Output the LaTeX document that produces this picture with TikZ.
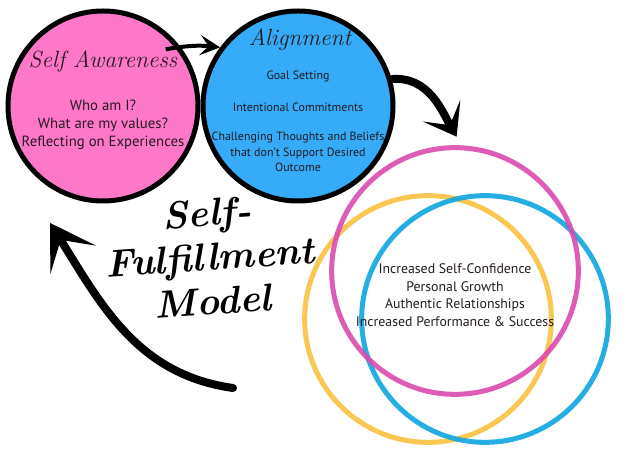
\documentclass[tikz,border=0pt]{standalone}
\usepackage{fontspec}
\setsansfont{PT Sans}
\usepackage{tikz}
\usetikzlibrary{arrows.meta,positioning}
\usepackage{xcolor}

\definecolor{bubblepink}{HTML}{FF77C8}
\definecolor{bubbleblue}{HTML}{36ABF7}
\definecolor{ringmagenta}{HTML}{D94AAE}
\definecolor{ringyellow}{HTML}{FBC140}
\definecolor{ringcyan}{HTML}{0EA5E0}
\definecolor{inkdark}{HTML}{231A22}

\begin{document}
\begin{tikzpicture}[
    x=0.3mm,y=0.3mm,
    bubble/.style={circle,draw=black,line width=1.5mm,minimum size=57mm,inner sep=0pt},
    ring/.style={circle,line width=1.5mm,minimum size=74mm,inner sep=0pt,draw opacity=0.9},
    body/.style={font=\sffamily\fontsize{11.8}{15}\selectfont,align=center,text=inkdark},
    heading/.style={font=\rmfamily\itshape\fontsize{20}{22}\selectfont,text=inkdark},
    title/.style={font=\rmfamily\bfseries\itshape\fontsize{33}{38}\selectfont,align=center},
    smallarrow/.style={line width=1.2mm,-{Stealth[length=6mm,width=6mm,inset=2.5mm]}},
    bigarrow/.style={line width=2.4mm,line cap=round}
  ]
    \useasboundingbox (0,0) rectangle (628,471);

    % the two circles on top
    \node[bubble,fill=bubblepink] (aware) at (103,365) {};
    \node[heading] (awaretitle) at (103,409) {Self Awareness};
    \node[body,font=\sffamily\fontsize{12.6}{15.5}\selectfont] (awaretext) at (103,346)
      {Who am I?\\What are my values?\\Reflecting on Experiences};

    \node[bubble,fill=bubbleblue] (align) at (298,365) {};
    \node[heading] (aligntitle) at (300,431) {Alignment};
    \node[body,font=\sffamily\fontsize{10.2}{13}\selectfont] (goal) at (298,394) {Goal Setting};
    \node[body,font=\sffamily\fontsize{10.2}{13}\selectfont] (commit) at (298,364) {Intentional Commitments};
    \node[body,font=\sffamily\fontsize{10.2}{13}\selectfont] (challenge) at (298,319)
      {Challenging Thoughts and Beliefs\\that don't Support Desired\\Outcome};

    % venn of outcomes
    \node[ring,draw=ringyellow] (ringY) at (428,152) {};
    \node[ring,draw=ringcyan] (ringC) at (485,152) {};
    \node[ring,draw=ringmagenta] (ringM) at (455,200) {};
    \node[body] (outcome) at (455,176) {Increased Self-Confidence\\Personal Growth\\Authentic Relationships\\Increased Performance \& Success};

    \node[title,rotate=4] (model) at (210,214) {Self-\\Fulfillment\\Model};

    % arrows
    \coordinate (loop) at (233,83);
    \coordinate (looptip) at ([shift={(16,-48)}]aware.south west);
    \draw[smallarrow] ([shift={(-12,-6)}]aware.40) to[bend left=8] (align.143);
    \draw[bigarrow,-{Stealth[length=9mm,width=13mm,inset=5mm]},shorten >=3mm]
      (align.16) to[out=5,in=120] (ringM.87);
    \draw[bigarrow,-{Stealth[length=13mm,width=16mm,inset=7mm]}]
      (loop) to[out=172,in=-58] (looptip);
\end{tikzpicture}
\end{document}
